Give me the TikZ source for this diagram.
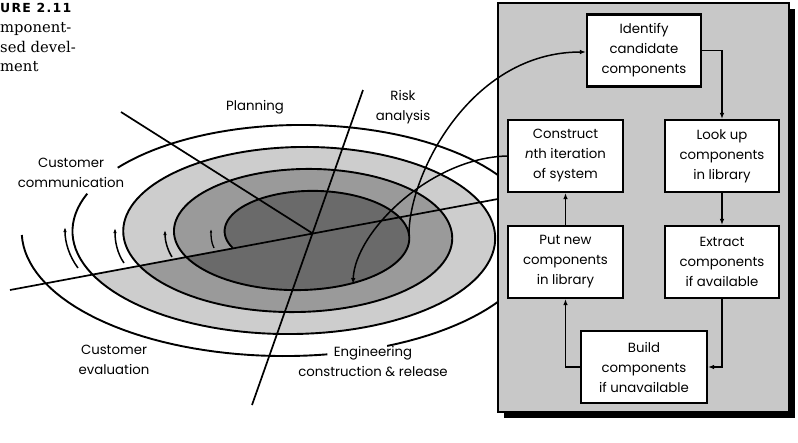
\documentclass[tikz,border=0pt]{standalone}
\usepackage{fontspec}
\setmainfont{Poppins}
\newfontfamily\capfont{DejaVu Serif}
\newfontfamily\titlefont[LetterSpace=10]{DejaVu Sans}
\usetikzlibrary{arrows.meta}
\definecolor{darkring}{HTML}{6A6A6A}
\definecolor{midring}{HTML}{9A9A9A}
\definecolor{lightring}{HTML}{CDCDCD}
\definecolor{panelgray}{HTML}{C8C8C8}
\tikzset{
  declare function={
    spx(\t)=306.3-3.9*((\t-180)/360)+(81.3+46.9*((\t-180)/360))*cos(\t);
    spy(\t)=235+(44+22*((\t-270)/360))*sin(\t);
  },
  spiralline/.style={line width=1.9pt, line join=round},
  axisline/.style={line width=1.7pt},
  stepbox/.style={draw, line width=2.1pt, fill=white, align=center, inner sep=0pt,
    minimum width=114pt, minimum height=72pt, font=\fontsize{13.3}{20}\selectfont},
  flow/.style={line width=1.5pt, -{Latex[length=6pt,width=4.5pt]}},
  spin/.style={line width=1.5pt, -{Latex[length=5pt,width=3.5pt]}},
  lbl/.style={align=center, inner sep=0pt, font=\fontsize{13.3}{20}\selectfont},
  captext/.style={anchor=base west, inner sep=0pt, font=\capfont\fontsize{14.8}{16}\selectfont},
}
\begin{document}
\begin{tikzpicture}[x=1pt,y=-1pt]
\useasboundingbox (0,0) rectangle (798,442);

% ---- shaded bands of the spiral ----
\fill[lightring] plot[domain=878:1238,samples=140,variable=\t] ({spx(\t)},{spy(\t)}) -- cycle;
\fill[midring]   plot[domain=519:878,samples=140,variable=\t] ({spx(\t)},{spy(\t)}) -- cycle;
\fill[darkring]  plot[domain=160:519,samples=140,variable=\t] ({spx(\t)},{spy(\t)}) -- cycle;

% ---- axes ----
\coordinate (ctr) at (312,233);
\coordinate (plA) at (121,112);
\coordinate (riA) at (363,90);
\coordinate (riB) at (252,405);
\coordinate (evA) at (10,290);
\coordinate (evB) at (500,198.6);
\draw[axisline] (plA) -- (ctr);
\draw[axisline] (riA) -- (riB);
\draw[axisline] (evA) -- (evB);

% ---- spiral line ----
\draw[spiralline] plot[domain=160:1283,samples=400,variable=\t] ({spx(\t)},{spy(\t)});
\draw[spiralline] plot[domain=1299:1508,samples=80,variable=\t] ({spx(\t)},{spy(\t)});
\draw[spiralline] plot[domain=1522:1620,samples=40,variable=\t] ({spx(\t)},{spy(\t)});

% ---- small direction arrows ----
\draw[spin] (78,268) .. controls (69,256) and (65,242) .. (65,227);
\draw[spin] (124,263) .. controls (117,253) and (115,241) .. (115,228);
\draw[spin] (172,257) .. controls (167,249) and (165,240) .. (165,230);
\draw[line width=1.3pt, -{Latex[length=3.5pt,width=2.5pt]}] (214,248) .. controls (211,242) and (211,236) .. (211,229);

% ---- labels ----
\node[lbl] (plan) at (255,107) {Planning};
\node[lbl] (risk) at (403,107) {Risk\\analysis};
\node[lbl] (ccom) at (71,173) {Customer\\communication};
\node[lbl] (ceva) at (114,360) {Customer\\evaluation};
\node[lbl] (engi) at (373,361.5) {Engineering\\construction \& release};

% ---- caption (cropped) ----
\node[anchor=base west, inner sep=0pt, font=\titlefont\bfseries\fontsize{12.5}{14}\selectfont] (fig) at (0,12) {URE 2.11};
\node[captext] (c1) at (0,32) {mponent-};
\node[captext] (c2) at (0,52) {sed devel-};
\node[captext] (c3) at (0,71) {ment};

% ---- panel ----
\fill[black] (504,9) rectangle (795,418);
\draw[fill=panelgray, line width=1.5pt] (498,3) rectangle (789,412);

% ---- boxes ----
\node[stepbox] (ident) at (644,50.5) {Identify\\candidate\\components};
\node[stepbox] (look) at (722,156) {Look up\\components\\in library};
\node[stepbox] (extr) at (722,262) {Extract\\components\\if available};
\node[stepbox, minimum width=126pt] (build) at (644,367) {Build\\components\\if unavailable};
\node[stepbox, minimum width=115pt] (putn) at (565.5,262) {Put new\\components\\in library};
\node[stepbox, minimum width=115pt] (cons) at (565.5,156) {Construct\\\textit{n}th iteration\\of system};

\draw[flow] (ident.east) -| (look.north);
\draw[flow] (look) -- (extr);
\draw[flow] (extr.south) |- (build.east);
\draw[flow] (build.west) -| (putn.south);
\draw[flow] (putn) -- (cons);

% ---- links between spiral and panel ----
\coordinate (s1) at (409,234);
\coordinate (e2) at (353,284);
\draw[flow] (s1) .. controls (409,175) and (470,52) .. ([yshift=-1.5pt]ident.west);
\draw[flow] (cons.west) .. controls (430,158) and (355,232) .. (e2);
\end{tikzpicture}
\end{document}
